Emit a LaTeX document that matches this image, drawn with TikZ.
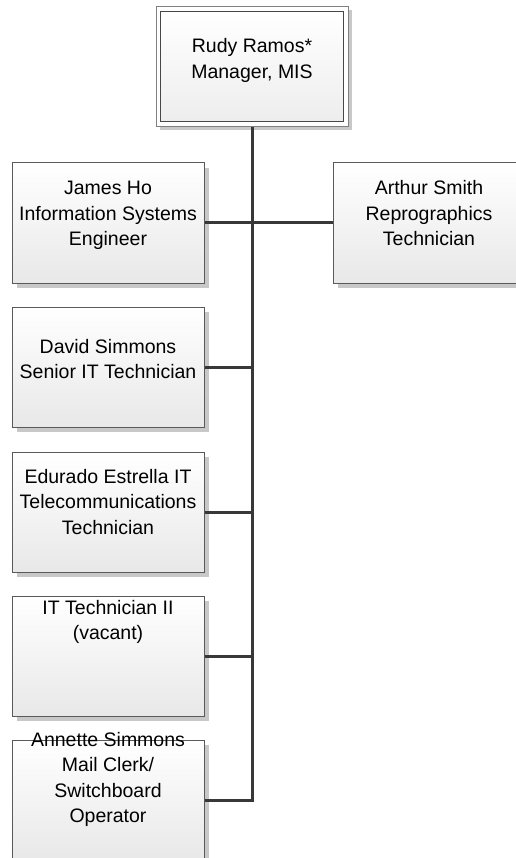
\documentclass[tikz,border=0pt]{standalone}
\usepackage{fontspec}
\setmainfont{Liberation Sans}
\usetikzlibrary{calc,shadows}
\definecolor{linegray}{HTML}{383838}
\definecolor{boxgray}{HTML}{5A5A5A}
\definecolor{shadowgray}{HTML}{C8C8C8}
\newcommand{\mylines}[1]{\begin{tabular}[t]{@{}c@{}}#1\end{tabular}}
\begin{document}
\begin{tikzpicture}[x=1pt,y=-1pt,
  card/.style={draw=boxgray, line width=1pt, top color=white, bottom color=black!9,
    minimum width=192pt, minimum height=120pt, inner sep=0pt,
    general shadow={shadow xshift=5pt, shadow yshift=-5pt, fill=shadowgray}},
  frame/.style={draw=black!50, line width=1pt, fill=white,
    minimum width=192pt, minimum height=120pt, inner sep=0pt,
    general shadow={shadow xshift=4pt, shadow yshift=-3pt, fill=shadowgray}},
  inner/.style={draw=black!72, line width=1pt, top color=white, bottom color=black!7,
    minimum width=183pt, minimum height=110pt, inner sep=0pt},
  txt/.style={anchor=base, inner sep=0pt, font=\fontsize{19.5}{25.5}\selectfont},
  conn/.style={draw=linegray, line width=3pt}]
\useasboundingbox (0,0) rectangle (515,858);
% boxes
\node[frame] (topframe) at (252,67) {};
\node[inner] (top) at (251.5,67) {};
\node[card] (james) at (108,223) {};
\node[card] (arthur) at (429,223) {};
\node[card] (david) at (108,367) {};
\node[card] (edurado) at (108,512) {};
\node[card] (it2) at (108,656) {};
\node[card] (annette) at (108,800) {};
% connectors
\draw[conn] (topframe.south) -- (topframe.south |- annette.east) -- (annette.east);
\draw[conn] (james.east) -- (james.east -| topframe.south);
\draw[conn] (arthur.west) -- (arthur.west -| topframe.south);
\draw[conn] (david.east) -- (david.east -| topframe.south);
\draw[conn] (edurado.east) -- (edurado.east -| topframe.south);
\draw[conn] (it2.east) -- (it2.east -| topframe.south);
% texts
\node[txt] (toptext) at (252,53) {\mylines{Rudy Ramos*\\Manager, MIS}};
\node[txt] (jamestext) at (108,195) {\mylines{James Ho\\Information Systems\\Engineer}};
\node[txt] (arthurtext) at (429,195) {\mylines{Arthur Smith\\Reprographics\\Technician}};
\node[txt] (davidtext) at (108,353) {\mylines{David Simmons\\Senior IT Technician}};
\node[txt] (eduradotext) at (108,483) {\mylines{Edurado Estrella IT\\Telecommunications\\Technician}};
\node[txt] (it2text) at (108,614) {\mylines{IT Technician II\\(vacant)}};
\node[txt] (annettetext) at (108,746) {\mylines{Annette Simmons\\Mail Clerk/\\Switchboard\\Operator}};
\end{tikzpicture}
\end{document}
